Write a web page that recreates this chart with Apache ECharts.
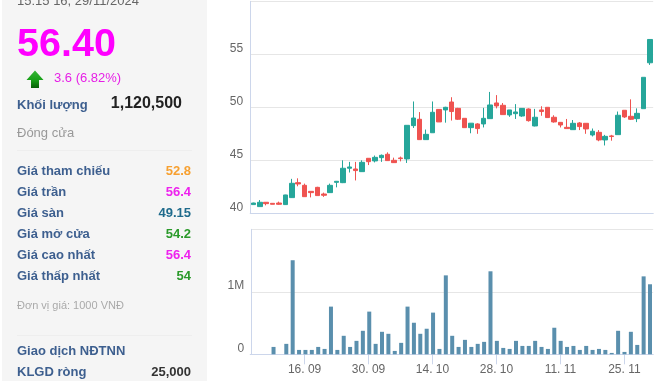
<!DOCTYPE html>
<html>
<head>
<meta charset="utf-8">
<style>html,body{margin:0;padding:0;background:#fff}#c{width:661px;height:381px}</style>
<script src="https://cdn.jsdelivr.net/npm/echarts@6/dist/echarts.min.js"></script>
</head>
<body>
<div id="c"></div>
<script>
const dates = ["04. 09","05. 09","06. 09","09. 09","10. 09","11. 09","12. 09","13. 09","16. 09","17. 09","18. 09","19. 09","20. 09","23. 09","24. 09","25. 09","26. 09","27. 09","30. 09",
"01. 10","02. 10","03. 10","04. 10","07. 10","08. 10","09. 10","10. 10","11. 10","14. 10","15. 10","16. 10","17. 10","18. 10","21. 10","22. 10","23. 10","24. 10","25. 10","28. 10","29. 10","30. 10","31. 10",
"01. 11","04. 11","05. 11","06. 11","07. 11","08. 11","11. 11","12. 11","13. 11","14. 11","15. 11","18. 11","19. 11","20. 11","21. 11","22. 11","25. 11","26. 11","27. 11","28. 11","29. 11"];
const opens = [40.82,40.63,41.04,40.94,40.97,40.82,41.48,42.89,42.64,42.07,42.45,41.82,41.95,42.92,42.89,44.25,44.18,43.93,45.19,44.94,45.25,45.57,45.0,45.22,45.13,48.27,48.87,46.95,47.6,49.8,49.75,50.5,49.9,48.96,48.08,48.43,48.43,48.93,50.41,50.19,49.28,49.4,49.18,49.84,48.24,49.75,50.0,49.06,48.58,48.11,47.89,48.52,48.49,47.39,47.64,46.92,47.3,47.42,49.72,49.15,48.93,49.87,54.2];
const closes = [40.97,41.04,40.91,40.85,40.85,41.73,42.83,42.77,41.57,41.95,41.67,41.7,42.64,43.02,44.25,44.37,44.03,44.81,44.87,45.28,45.47,44.97,44.78,45.16,48.3,48.99,46.95,47.45,49.53,48.62,50.0,49.6,48.87,48.08,48.5,47.99,48.96,50.22,50.13,49.31,49.75,49.56,49.9,48.74,49.06,49.6,49.03,48.62,48.33,47.99,48.49,48.18,47.96,47.74,46.92,47.26,47.24,49.25,49.09,48.87,49.43,52.83,56.4];
const lows = [40.8,40.6,40.75,40.85,40.8,40.8,41.45,42.55,41.55,41.5,41.67,41.55,41.95,42.45,42.85,43.85,43.1,43.9,44.55,44.8,44.85,44.95,44.75,44.9,44.75,48.05,46.95,46.95,47.6,48.62,48.55,48.75,48.8,48.05,47.55,47.5,48.1,48.93,49.9,49.31,49.1,48.9,49.1,48.65,48.2,49.2,49.03,48.55,48.1,47.99,47.89,47.85,47.5,47.25,46.8,46.4,46.85,47.42,49.0,48.8,48.6,49.87,54.0];
const highs = [41.0,41.25,41.05,40.95,41.1,41.75,43.25,43.3,42.8,42.07,42.5,41.95,42.8,43.05,45.0,44.85,44.85,45.0,45.2,45.45,45.55,45.75,45.25,45.35,48.3,50.55,49.55,47.9,50.55,49.8,50.05,50.95,49.95,48.96,48.5,48.5,49.95,51.45,51.15,50.4,49.75,50.3,49.9,49.9,49.85,50.1,50.0,49.25,48.6,48.9,48.8,48.6,48.49,48.0,47.85,47.4,47.4,49.6,49.72,50.75,49.9,52.83,56.4];
const volumes = [0,0,0,118000,0,167000,1505000,70000,70000,70000,118000,86000,763000,70000,296000,118000,215000,376000,683000,167000,360000,328000,54000,183000,763000,505000,328000,409000,667000,86000,1263000,296000,118000,231000,118000,167000,199000,1328000,215000,102000,86000,215000,134000,134000,215000,118000,86000,425000,215000,118000,134000,70000,134000,70000,86000,70000,22000,376000,38000,360000,150000,1247000,1120500];

const rowLabels = ["Giá tham chiếu","Giá trần","Giá sàn","Giá mở cửa","Giá cao nhất","Giá thấp nhất"];
const rowValues = ["52.8","56.4","49.15","54.2","56.4","54"];
const rowColors = ["#f7a030","#ee22ee","#1f6b8c","#2a9a2a","#ee22ee","#2a9a2a"];
const rowY = [171,192.5,213,234,255,276.5];
const tickDates = ["16. 09","30. 09","14. 10","28. 10","11. 11","25. 11"];

const up = "#26a69a", down = "#ef5350", tickCol = "#ccd6eb", gridCol = "#e6e6e6", navy = "#3d5f8f";
const family = '"Liberation Sans", Arial, sans-serif';
const t = (text, x, y, font, fill, align) => ({type:'text', silent:true, style:{text, x, y, font:font+' '+family, fill, textAlign:align||'left', textVerticalAlign:'middle'}});

const panel = [
  {type:'rect', silent:true, shape:{x:2,y:0,width:205,height:381}, style:{fill:'#f5f5f5'}},
  t("15:15 16, 29/11/2024",17,1.5,'13px','#666'),
  t("56.40",17,45,'bold 39.5px','#ff00ff'),
  {type:'polygon', silent:true, shape:{points:[[35,70.5],[43.5,80],[39,80],[39,88],[31,88],[31,80],[26.5,80]]},
    style:{fill:new echarts.graphic.LinearGradient(0,0,0,1,[{offset:0,color:'#35b535'},{offset:0.55,color:'#18a018'},{offset:1,color:'#075f07'}])}},
  t("3.6 (6.82%)",54,78.5,'13px','#e61ee6'),
  t("Khối lượng",17,105,'bold 13px',navy),
  t("1,120,500",182,103.5,'bold 16px','#222','right'),
  t("Đóng cửa",17,133,'13px','#999'),
  {type:'rect', silent:true, shape:{x:17,y:150,width:175,height:1}, style:{fill:'#eeeeee'}},
  ...rowLabels.map((s,i)=>t(s,17,rowY[i],'bold 13px',navy)),
  ...rowValues.map((s,i)=>t(s,191,rowY[i],'bold 13px',rowColors[i],'right')),
  t("Đơn vị giá: 1000 VNĐ",17,306,'11px','#aaa'),
  {type:'rect', silent:true, shape:{x:17,y:335,width:175,height:1}, style:{fill:'#eeeeee'}},
  t("Giao dịch NĐTNN",17,351,'bold 13px',navy),
  t("KLGD ròng",17,372.5,'bold 13px',navy),
  t("25,000",191,372.5,'bold 13px','#333','right')
];

const chart = echarts.init(document.getElementById('c'), null, {renderer:'canvas'});
const tickIdx = tickDates.map(d=>dates.indexOf(d));
const valAxis = (g,min,max,interval,fmt) => ({
  type:'value', gridIndex:g, min, max, interval,
  axisLine:{show:true, lineStyle:{color:tickCol}}, axisTick:{show:false},
  splitLine:{show:true, lineStyle:{color:gridCol}},
  axisLabel:{color:'#666', fontSize:12, fontFamily:family, margin:7, verticalAlign:'bottom', showMaxLabel:false, formatter:fmt}
});
chart.setOption({
  animation:false,
  backgroundColor:'#fff',
  graphic:{elements:panel},
  grid:[
    {left:250.2, top:1.3, width:403, height:212},
    {left:251.2, top:229.3, width:402, height:125},
    {left:250.2, top:353.3, width:403, height:1}
  ],
  xAxis:[
    {type:'category', gridIndex:0, data:dates, boundaryGap:true, axisLine:{lineStyle:{color:tickCol}}, axisTick:{show:false}, axisLabel:{show:false}},
    {type:'category', gridIndex:1, data:dates, boundaryGap:true, show:false},
    {type:'category', gridIndex:2, data:dates, boundaryGap:true, position:'bottom',
      axisLine:{show:true, onZero:false, lineStyle:{color:tickCol}},
      axisTick:{show:true, length:10, alignWithLabel:true, lineStyle:{color:tickCol, width:1}, customValues:tickIdx},
      axisLabel:{show:true, color:'#666', fontSize:12, fontFamily:family, margin:9, customValues:tickIdx}}
  ],
  yAxis:[
    valAxis(0,40,60,5,(v)=>String(v)),
    valAxis(1,0,2000000,1000000,(v)=>v===0?'0':(v/1000000)+'M'),
    {type:'value', gridIndex:2, min:0, max:1, show:false}
  ],
  series:[
    {type:'candlestick', xAxisIndex:0, yAxisIndex:0, barWidth:5,
      itemStyle:{color:up, color0:down, borderColor:up, borderColor0:down, borderWidth:1},
      data:dates.map((d,i)=>[opens[i],closes[i],lows[i],highs[i]])},
    {type:'bar', xAxisIndex:1, yAxisIndex:1, barWidth:4, itemStyle:{color:'#5a8fad'}, data:volumes}
  ]
});
</script>
</body>
</html>
